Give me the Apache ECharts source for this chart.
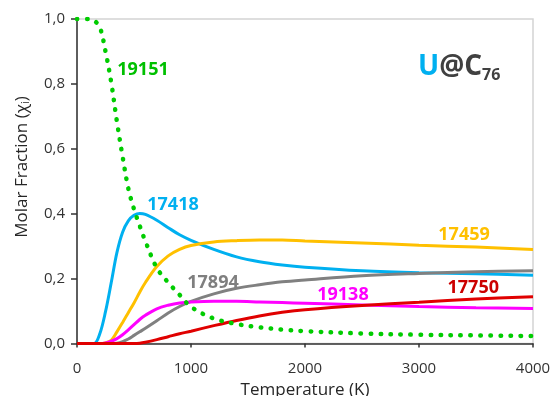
<!DOCTYPE html>
<html>
<head>
<meta charset="utf-8">
<script src="https://cdn.jsdelivr.net/npm/echarts@6/dist/echarts.min.js"></script>
<style>
html,body{margin:0;padding:0;background:#fff;}
#c{width:553px;height:396px;}
</style>
</head>
<body>
<div id="c"></div>
<script>
// Temperatures (K)
var temps = [0, 100, 150, 200, 250, 300, 350, 400, 450, 500, 550, 600, 700, 800, 900, 1000, 1200, 1400, 1600, 1800, 2000, 2500, 3000, 3500, 4000];
// Molar fractions per isomer
var s19151 = [1.0, 1.0, 0.995, 0.975, 0.9, 0.805, 0.684, 0.576, 0.478, 0.414, 0.363, 0.315, 0.233, 0.188, 0.15, 0.113, 0.077, 0.06, 0.05, 0.043, 0.038, 0.031, 0.027, 0.025, 0.023];
var s17418 = [0, 0, 0, 0.03, 0.098, 0.187, 0.28, 0.343, 0.378, 0.395, 0.401, 0.398, 0.38, 0.357, 0.335, 0.318, 0.29, 0.267, 0.252, 0.242, 0.235, 0.224, 0.218, 0.215, 0.21];
var s17459 = [0, 0, 0, 0, 0.002, 0.01, 0.036, 0.065, 0.095, 0.125, 0.158, 0.188, 0.237, 0.27, 0.29, 0.302, 0.313, 0.317, 0.319, 0.319, 0.316, 0.31, 0.303, 0.297, 0.29];
var s17894 = [0, 0, 0, 0, 0, 0, 0.001, 0.006, 0.014, 0.025, 0.036, 0.047, 0.07, 0.094, 0.114, 0.13, 0.153, 0.17, 0.181, 0.19, 0.196, 0.209, 0.216, 0.221, 0.224];
var s19138 = [0, 0, 0, 0, 0.002, 0.007, 0.015, 0.027, 0.042, 0.058, 0.074, 0.087, 0.107, 0.118, 0.125, 0.128, 0.13, 0.13, 0.128, 0.126, 0.124, 0.119, 0.114, 0.11, 0.108];
var s17750 = [0, 0, 0, 0, 0, 0, 0, 0, 0, 0, 0.001, 0.004, 0.012, 0.021, 0.03, 0.038, 0.055, 0.071, 0.085, 0.096, 0.104, 0.117, 0.127, 0.137, 0.144];
// Label anchor positions in data units [T, x]
var labelNames = ['19151', '17418', '17459', '17894', '19138', '17750'];
var labelAt = [[579, 0.842], [842, 0.427], [3395, 0.334], [1193, 0.187], [2333, 0.149], [3476, 0.17]];
var labelColors = ['#00c000', '#00b0f0', '#ffc000', '#7f7f7f', '#ff00ff', '#cc0000'];

function pairs(vals) { return temps.map(function (t, i) { return [t, vals[i]]; }); }

var chart = echarts.init(document.getElementById('c'));
var font = '"Open Sans", "Noto Sans", sans-serif';

function line(name, vals, color, extra) {
  var s = {
    name: name, type: 'line', data: pairs(vals), showSymbol: false, smooth: 0.35,
    lineStyle: { color: color, width: 3 }, itemStyle: { color: color }, silent: true
  };
  if (extra) { for (var k in extra) s[k] = extra[k]; }
  return s;
}

chart.setOption({
  animation: false,
  grid: { left: 77, right: 20, top: 19, bottom: 52.5, show: true, borderColor: '#d4d4d4', borderWidth: 1.5,
    containLabel: false, outerBoundsMode: 'none' },
  xAxis: {
    type: 'value', min: 0, max: 4000, interval: 1000,
    name: 'Temperature (K)', nameLocation: 'middle', nameGap: 37,
    nameTextStyle: { fontFamily: font, fontSize: 17, color: '#262626' },
    axisLine: { lineStyle: { color: '#333', width: 1.5 } },
    axisTick: { show: true, length: 4, lineStyle: { color: '#333', width: 1.5 } },
    axisLabel: { margin: 18, fontFamily: font, fontSize: 15, color: '#333',
      formatter: function (v) { return String(v); } },
    splitLine: { show: false }
  },
  yAxis: {
    type: 'value', min: 0, max: 1, interval: 0.2,
    axisLine: { show: true, lineStyle: { color: '#333', width: 1.5 } },
    axisTick: { show: true, length: 6, lineStyle: { color: '#333', width: 1.5 } },
    axisLabel: { margin: 12, fontFamily: font, fontSize: 15, color: '#333',
      formatter: function (v) { return v.toFixed(1).replace('.', ','); } },
    splitLine: { show: false }
  },
  series: [
    line('17418', s17418, '#00b0f0'),
    line('17459', s17459, '#ffc000'),
    line('17894', s17894, '#808080'),
    line('19138', s19138, '#ff00ff'),
    line('17750', s17750, '#e00000'),
    line('19151', s19151, '#00cc00', { lineStyle: { color: '#00cc00', width: 4.5, type: [0.5, 9.5], cap: 'round' } })
  ]
});

var g = [];
labelNames.forEach(function (n, i) {
  var p = chart.convertToPixel({ gridIndex: 0 }, labelAt[i]);
  g.push({ type: 'text', x: p[0], y: p[1], silent: true,
    style: { text: n, fill: labelColors[i], font: 'bold 18px ' + font, align: 'center', verticalAlign: 'middle' } });
});
g.push({ type: 'text', x: 418, y: 67, silent: true,
  style: { text: '{u|U}{c|@C}{s|76}', verticalAlign: 'middle',
    rich: {
      u: { fill: '#00b0f0', font: 'bold 28px ' + font },
      c: { fill: '#404040', font: 'bold 28px ' + font },
      s: { fill: '#404040', font: 'bold 16px ' + font, padding: [16, 0, 0, 0] }
    } } });
g.push({ type: 'text', x: 22, y: 167, rotation: Math.PI / 2, silent: true,
  style: { text: 'Molar Fraction (χ{s|i})', align: 'center', verticalAlign: 'middle',
    fill: '#262626', font: '17px ' + font,
    rich: { s: { fill: '#262626', font: '11px ' + font, padding: [8, 0, 0, 0] } } } });
chart.setOption({ graphic: g });
</script>
</body>
</html>
